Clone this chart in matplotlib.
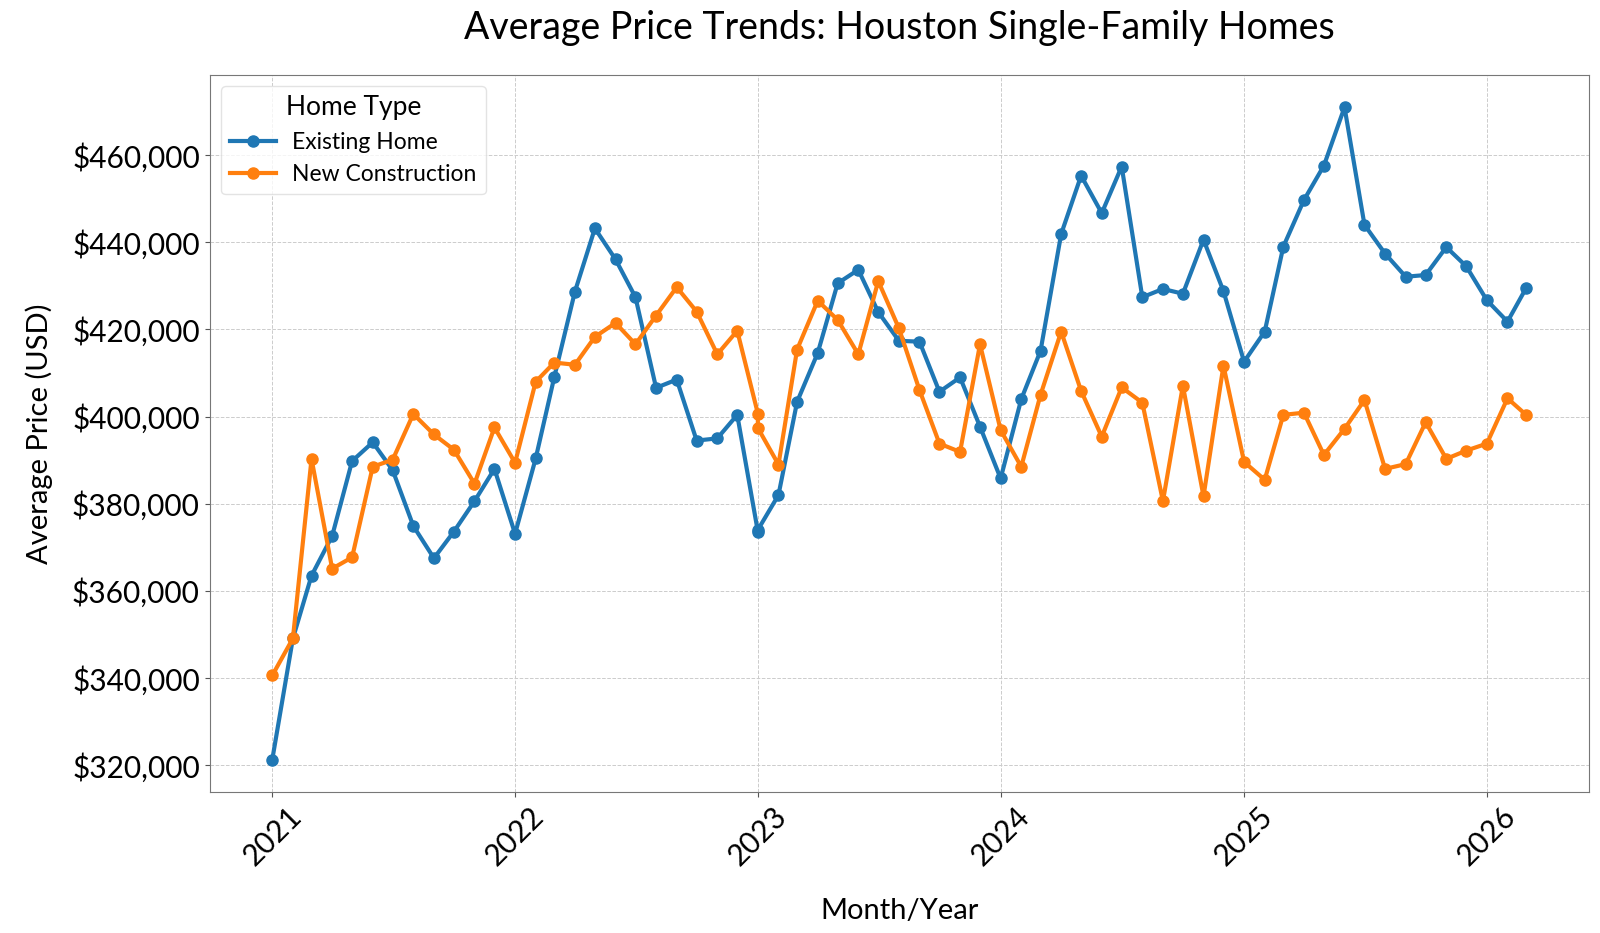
import matplotlib.pyplot as plt
import matplotlib.dates as mdates
import matplotlib.ticker as mticker
import pandas as pd

# monthly data, Jan 2021 - Mar 2026 (Jan 2023 appears twice in the source)
months = list(pd.date_range("2021-01-01", "2026-03-01", freq="MS"))
months.insert(24, pd.Timestamp("2023-01-01"))

existing_home = [
    321300, 349100, 363500, 372600, 389800, 394100, 387700, 374900, 367500, 373600, 380600, 388000,
    373100, 390400, 409100, 428700, 443200, 436100, 427400, 406600, 408500, 394500, 395000, 400400,
    373600, 374000,
    382000, 403400, 414600, 430600, 433700, 424000, 417400, 417200, 405700, 409000, 397700,
    385800, 404000, 415100, 441900, 455300, 446700, 457400, 427400, 429300, 428200, 440600, 428800,
    412600, 419500, 439000, 449700, 457600, 471000, 444000, 437400, 432100, 432500, 438900, 434500,
    426700, 421800, 429500,
]

new_construction = [
    340600, 349100, 390300, 365100, 367700, 388500, 390100, 400600, 395900, 392400, 384600, 397500,
    389400, 408000, 412400, 411900, 418300, 421500, 416600, 423200, 429700, 424100, 414300, 419700,
    400700, 397400,
    389000, 415400, 426600, 422200, 414300, 431100, 420300, 406100, 393800, 391900, 416600,
    396900, 388500, 405000, 419500, 405900, 395400, 406700, 403200, 380600, 407100, 381700, 411700,
    389600, 385500, 400400, 400900, 391200, 397200, 403800, 388000, 389100, 398700, 390300, 392200,
    393800, 404200, 400400,
]

plt.rcParams['font.family'] = ['Lato', 'DejaVu Sans']

fig, ax = plt.subplots(figsize=(16, 9.33), dpi=100)

ax.plot(months, existing_home, color='#1f77b4', linewidth=3, marker='o', markersize=8, label='Existing Home')
ax.plot(months, new_construction, color='#ff7f0e', linewidth=3, marker='o', markersize=8, label='New Construction')

ax.set_title('Average Price Trends: Houston Single-Family Homes', fontsize=27, pad=26)
ax.set_xlabel('Month/Year', fontsize=21, labelpad=20)
ax.set_ylabel('Average Price (USD)', fontsize=21, labelpad=14)

ax.xaxis.set_major_locator(mdates.YearLocator())
ax.xaxis.set_major_formatter(mdates.DateFormatter('%Y'))
ax.yaxis.set_major_formatter(mticker.StrMethodFormatter('${x:,.0f}'))
ax.tick_params(axis='both', labelsize=21.5, color='#555555')
plt.setp(ax.get_xticklabels(), rotation=45)

ax.grid(True, linestyle='--', color='#cccccc', linewidth=0.7)
for spine in ax.spines.values():
    spine.set_color('#777777')

leg = ax.legend(title='Home Type', loc='upper left', fontsize=16.5, title_fontsize=19,
                handletextpad=0.7)
leg.get_frame().set_edgecolor('#dddddd')

fig.subplots_adjust(left=0.131, right=0.993, top=0.92, bottom=0.151)
fig.savefig('out.png')
